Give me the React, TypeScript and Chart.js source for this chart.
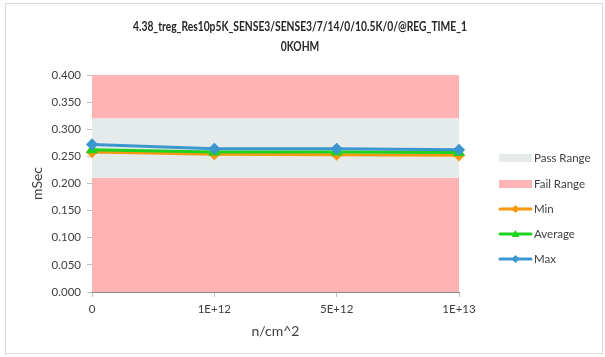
import React, { useEffect, useRef } from "react";
import { Chart, registerables } from "chart.js";

Chart.register(...registerables);

const categories = ["0", "1E+12", "5E+12", "1E+13"];
const passTop = [0.32, 0.32, 0.32, 0.32];
const failLowTop = [0.21, 0.21, 0.21, 0.21];
const failHighTop = [0.4, 0.4, 0.4, 0.4];
const minValues = [0.258, 0.254, 0.253, 0.252];
const avgValues = [0.262, 0.258, 0.258, 0.257];
const maxValues = [0.272, 0.264, 0.264, 0.262];
const titleLines = ["4.38_treg_Res10p5K_SENSE3/SENSE3/7/14/0/10.5K/0/@REG_TIME_1", "0KOHM"];
const legendLabels = ["Pass Range", "Fail Range", "Min", "Average", "Max"];

const PASS_COLOR = "#e5eaea";
const FAIL_COLOR = "#ffb3b3";
const MIN_COLOR = "#f7980f";
const AVG_COLOR = "#1fd21f";
const MAX_COLOR = "#3c97cf";
const FONT = "Lato, 'Open Sans', sans-serif";

const decorPlugin = {
  id: "decor",
  afterDraw(chart: any) {
    const ctx = chart.ctx;
    ctx.save();
    // outer border
    ctx.strokeStyle = "#d9d9d9";
    ctx.lineWidth = 1;
    ctx.strokeRect(5.5, 3.5, 597, 350);

    // title (slightly condensed to mimic Calibri proportions)
    ctx.fillStyle = "#262626";
    ctx.font = `bold 12.5px ${FONT}`;
    ctx.textAlign = "center";
    ctx.textBaseline = "middle";
    const w = ctx.measureText(titleLines[0]).width;
    const sx = Math.min(1, 334 / w);
    ctx.save();
    ctx.translate(300, 0);
    ctx.scale(sx, 1);
    ctx.fillText(titleLines[0], 0, 27);
    ctx.fillText(titleLines[1], 0, 47);
    ctx.restore();

    const x0 = 499;
    const x1 = 532;
    const ys = [158, 184, 209, 234, 259];
    const kinds = ["pass", "fail", "min", "avg", "max"];
    ctx.font = `11.5px ${FONT}`;
    ctx.textBaseline = "middle";
    ctx.textAlign = "left";
    kinds.forEach((k, i) => {
      const y = ys[i];
      if (k === "pass" || k === "fail") {
        ctx.fillStyle = k === "pass" ? PASS_COLOR : FAIL_COLOR;
        ctx.fillRect(x0, y - 4, x1 - x0, 8);
      } else {
        const col = k === "min" ? MIN_COLOR : k === "avg" ? AVG_COLOR : MAX_COLOR;
        ctx.strokeStyle = col;
        ctx.lineWidth = 3;
        ctx.lineCap = "round";
        ctx.beginPath();
        ctx.moveTo(x0 + 1, y);
        ctx.lineTo(x1 - 1, y);
        ctx.stroke();
        ctx.fillStyle = col;
        const cx = (x0 + x1) / 2;
        ctx.beginPath();
        if (k === "avg") {
          ctx.moveTo(cx, y - 4);
          ctx.lineTo(cx + 4, y + 3);
          ctx.lineTo(cx - 4, y + 3);
        } else {
          ctx.moveTo(cx, y - 4);
          ctx.lineTo(cx + 4, y);
          ctx.lineTo(cx, y + 4);
          ctx.lineTo(cx - 4, y);
        }
        ctx.closePath();
        ctx.fill();
      }
      ctx.fillStyle = "#404040";
      ctx.fillText(legendLabels[i], 534, y + 0.5);
    });
    ctx.restore();
  },
};

export default function App() {
  const ref = useRef<HTMLCanvasElement | null>(null);

  useEffect(() => {
    if (!ref.current) return;
    const areaBase = {
      type: "line" as const,
      borderWidth: 0,
      pointRadius: 0,
      tension: 0,
      order: 3,
    };
    const lineBase = {
      type: "line" as const,
      borderWidth: 3,
      pointRadius: 4,
      tension: 0,
      fill: false,
    };
    const chart = new Chart(ref.current, {
      type: "line",
      data: {
        labels: categories,
        datasets: [
          { ...areaBase, label: "Fail Range", data: failLowTop, fill: "origin", backgroundColor: FAIL_COLOR, borderColor: FAIL_COLOR },
          { ...areaBase, label: "Pass Range", data: passTop, fill: "-1", backgroundColor: PASS_COLOR, borderColor: PASS_COLOR },
          { ...areaBase, label: "Fail Range", data: failHighTop, fill: "-1", backgroundColor: FAIL_COLOR, borderColor: FAIL_COLOR },
          { ...lineBase, label: "Min", data: minValues, borderColor: MIN_COLOR, backgroundColor: MIN_COLOR, pointStyle: "rectRot", order: 2 },
          { ...lineBase, label: "Average", data: avgValues, borderColor: AVG_COLOR, backgroundColor: AVG_COLOR, pointStyle: "triangle", order: 1 },
          { ...lineBase, label: "Max", data: maxValues, borderColor: MAX_COLOR, backgroundColor: MAX_COLOR, pointStyle: "rectRot", order: 0 },
        ],
      },
      options: {
        responsive: false,
        animation: false,
        layout: { padding: { left: 8, right: 146, top: 75, bottom: 10 } },
        plugins: {
          legend: { display: false },
          tooltip: { enabled: false },
          title: { display: false },
        },
        scales: {
          x: {
            type: "category",
            offset: false,
            grid: { display: true, drawOnChartArea: false, drawTicks: true, tickLength: 5, color: "#bfbfbf" },
            border: { color: "#868686" },
            ticks: { color: "#404040", font: { family: FONT, size: 11.5 }, padding: 5, maxRotation: 0, autoSkip: false },
            title: { display: true, text: "n/cm^2", color: "#404040", font: { family: FONT, size: 14 }, padding: { top: 0, bottom: 7 } },
            afterFit: (s: any) => { s.height = 55; },
          },
          y: {
            min: 0,
            max: 0.4,
            grid: { display: true, drawOnChartArea: false, drawTicks: true, tickLength: 5, color: "#bfbfbf" },
            border: { color: "#868686" },
            ticks: {
              stepSize: 0.05,
              color: "#404040",
              font: { family: FONT, size: 11.5 },
              padding: 6,
              callback: (v: any) => Number(v).toFixed(3),
            },
            title: { display: true, text: "mSec", color: "#404040", font: { family: FONT, size: 14 }, padding: { top: 21, bottom: 0 } },
            afterFit: (s: any) => { s.width = 84; },
          },
        },
      },
      plugins: [decorPlugin],
    });
    return () => chart.destroy();
  }, []);

  return (
    <div style={{ position: "fixed", left: 0, top: 0, width: 605, height: 357, background: "#fff" }}>
      <canvas ref={ref} width={605} height={357} style={{ width: 605, height: 357, display: "block" }} />
    </div>
  );
}
